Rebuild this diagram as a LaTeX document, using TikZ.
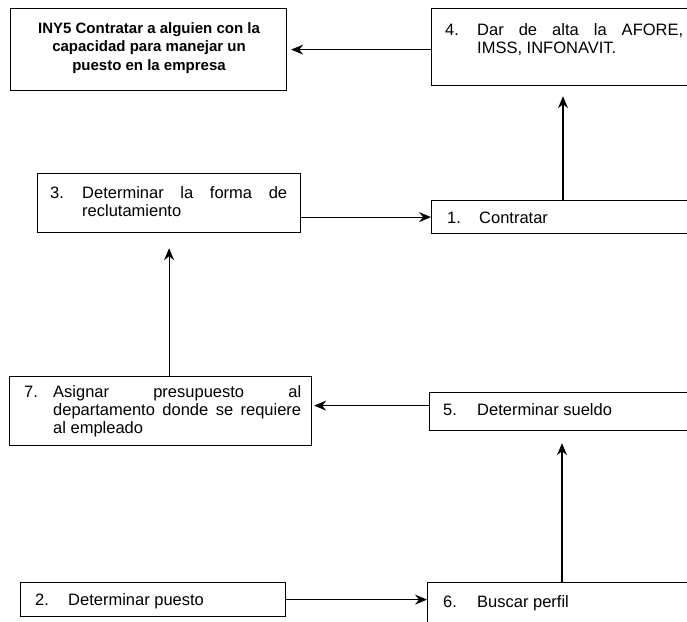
\documentclass[tikz,border=0pt]{standalone}
\usepackage{fontspec}
\setmainfont{Liberation Sans}
\usetikzlibrary{arrows.meta}
\begin{document}
\begin{tikzpicture}[x=1pt,y=-1pt,
  box/.style={draw, line width=1.2pt, rectangle, inner sep=0pt, anchor=north west},
  txt/.style={inner sep=0pt, anchor=base west, font=\fontsize{16.5}{18}\selectfont},
  ctxt/.style={inner sep=0pt, anchor=base, font=\fontsize{15}{18}\selectfont\bfseries},
  flow/.style={draw, line width=1.1pt, -{Stealth[length=12pt,width=10pt,inset=4pt]}}]
\useasboundingbox (0,0) rectangle (687,621);
\clip (0,0) rectangle (687,621);

% boxes
\node[box, minimum width=276pt, minimum height=82pt] (iny5) at (10,8) {};
\node[box, minimum width=280pt, minimum height=77pt] (b4) at (431,8) {};
\node[box, minimum width=263pt, minimum height=59pt] (b3) at (37,173) {};
\node[box, minimum width=280pt, minimum height=33pt] (b1) at (431,200) {};
\node[box, minimum width=302pt, minimum height=69pt] (b7) at (9,376) {};
\node[box, minimum width=280pt, minimum height=38pt] (b5) at (429,392) {};
\node[box, minimum width=265pt, minimum height=34pt] (b2) at (20,582) {};
\node[box, minimum width=280pt, minimum height=50pt] (b6) at (427,582) {};

% texts
\node[ctxt] (iny5a) at (149,33) {INY5 Contratar a alguien con la};
\node[ctxt] (iny5b) at (149,51.5) {capacidad para manejar un};
\node[ctxt] (iny5c) at (149,70) {puesto en la empresa};

\node[txt] (n4) at (445,35) {4.};
\node[txt] (t4a) at (477,35) {\makebox[206pt][s]{Dar de alta la AFORE,}};
\node[txt] (t4b) at (477,53) {IMSS, INFONAVIT.};

\node[txt] (n3) at (50,198) {3.};
\node[txt] (t3a) at (82,198) {\makebox[205pt][s]{Determinar la forma de}};
\node[txt] (t3b) at (82,216) {reclutamiento};

\node[txt] (n1) at (447,223) {1.};
\node[txt] (t1) at (479,223) {Contratar};

\node[txt] (n7) at (24,397) {7.};
\node[txt] (t7a) at (53,397) {\makebox[248pt][s]{Asignar presupuesto al}};
\node[txt] (t7b) at (53,415) {\makebox[248pt][s]{departamento donde se requiere}};
\node[txt] (t7c) at (53,433) {al empleado};

\node[txt] (n5) at (443,415) {5.};
\node[txt] (t5) at (477,415) {Determinar sueldo};

\node[txt] (n2) at (35,605) {2.};
\node[txt] (t2) at (68,605) {Determinar puesto};

\node[txt] (n6) at (443,607) {6.};
\node[txt] (t6) at (477,607) {Buscar perfil};

% connectors
\coordinate (a1) at ([xshift=132pt]b1.north west);
\coordinate (a5) at ([yshift=6pt]b5.west);
\coordinate (a6) at ([xshift=135pt]b6.north west);

\draw[flow, shorten >=4pt] (iny5.east -| b4.west) -- (iny5.east);
\draw[flow] (b3.east |- b1.west) -- (b1.west);
\draw[flow, shorten >=10pt] (a1) -- (a1 |- b4.south);
\draw[flow, shorten >=15pt] (b3.south |- b7.north) -- (b3.south);
\draw[flow, shorten >=2pt] (a5) -- (a5 -| b7.east);
\draw[flow] (b2.east) -- (b2.east -| b6.west);
\draw[flow, shorten >=12pt] (a6) -- (a6 |- b5.south);
\end{tikzpicture}
\end{document}
